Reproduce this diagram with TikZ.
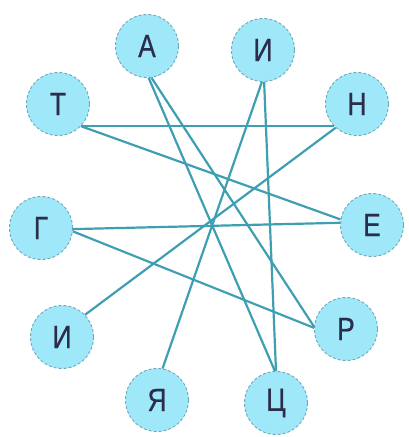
\documentclass[tikz,border=0pt]{standalone}
\usepackage{fontspec}
\setmainfont{Liberation Sans}
\newfontfamily\lettfont[FakeStretch=0.82,FakeBold=0.6]{Liberation Sans}
\begin{document}
\begin{tikzpicture}[x=1pt,y=-1pt,
  letter/.style={circle,fill=cyanfill,draw=rimcol,densely dashed,line width=0.9pt,minimum size=63pt,inner sep=0pt,
    font=\lettfont\fontsize{32}{32}\selectfont,text=txtcol},
  link/.style={draw=linecol,line width=2.2pt,solid}]
\definecolor{cyanfill}{HTML}{9EE8FA}
\definecolor{rimcol}{HTML}{6FA9B8}
\definecolor{txtcol}{HTML}{2B2D4A}
\definecolor{linecol}{HTML}{3E9EB2}
\useasboundingbox (0,0) rectangle (409,437);
\node[letter] (A) at (147,46) {А};
\node[letter] (I1) at (263,50) {И};
\node[letter] (T) at (58,104) {Т};
\node[letter] (N) at (357,104) {Н};
\node[letter] (G) at (41,228) {Г};
\node[letter] (E) at (372,225) {Е};
\node[letter] (I2) at (62,337) {И};
\node[letter] (R) at (346,329) {Р};
\node[letter] (Ya) at (157,400) {Я};
\node[letter] (Ts) at (276,403) {Ц};
\draw[link] (T.-44) -- (N.-136);
\draw[link] (T.-44) -- (E.170);
\draw[link] (G.-2) -- (E.176);
\draw[link] (G.-6) -- (R.178);
\draw[link] (A.-87) -- (Ts.92);
\draw[link] (A.-82) -- (R.176);
\draw[link] (I1.-92) -- (Ya.80);
\draw[link] (I1.-88) -- (Ts.90);
\draw[link] (N.-132) -- (I2.44);
\end{tikzpicture}
\end{document}
